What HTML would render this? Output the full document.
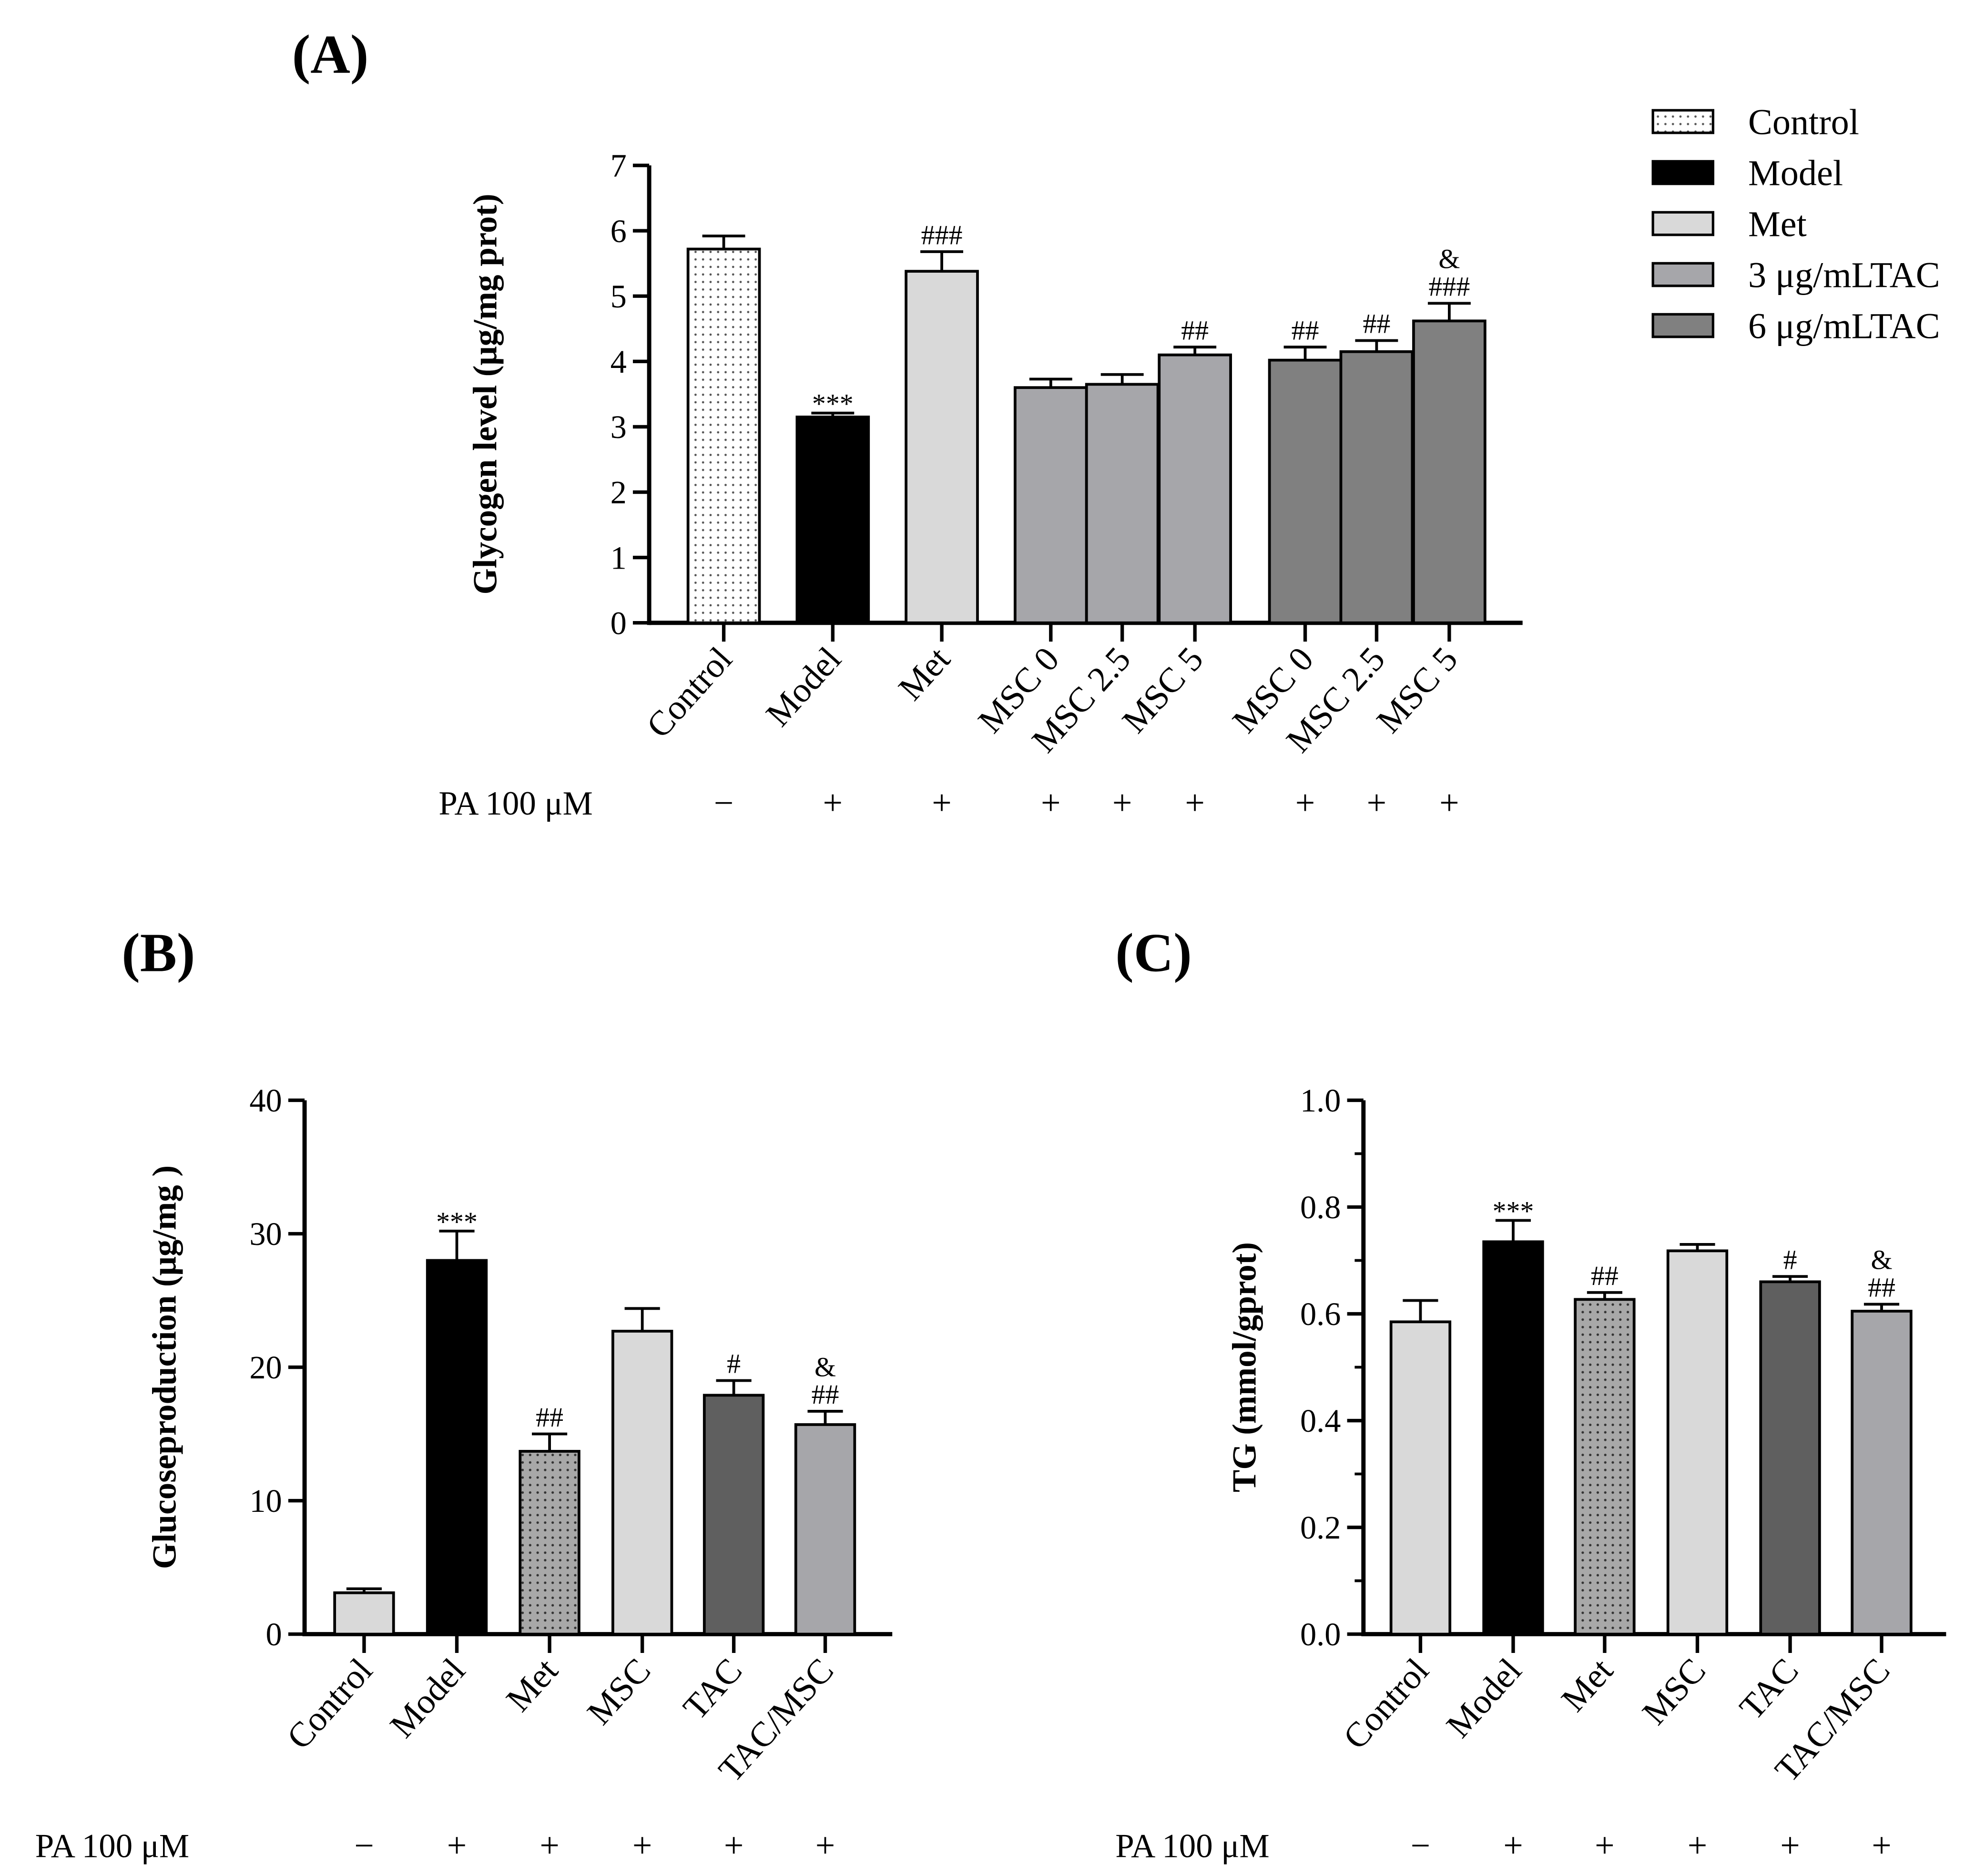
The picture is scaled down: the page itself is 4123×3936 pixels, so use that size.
<!DOCTYPE html>
<html><head><meta charset="utf-8">
<style>
html,body{margin:0;padding:0;background:#fff;}
svg{display:block;font-family:"Liberation Serif",serif;}
</style></head>
<body>
<svg id="fig" xmlns="http://www.w3.org/2000/svg" width="4123" height="3936" viewBox="0 0 1568 1497">
<defs>
<pattern id="dotsW" width="6" height="6" patternUnits="userSpaceOnUse"><rect width="6" height="6" fill="#fff"/><circle cx="3" cy="3" r="0.9" fill="#555"/></pattern>
<pattern id="dotsG" width="6" height="6" patternUnits="userSpaceOnUse"><rect width="6" height="6" fill="#a8a8a8"/><circle cx="3" cy="3" r="1" fill="#333"/></pattern>
</defs>
<text x="233" y="58" font-size="44" font-weight="bold">(A)</text>
<text x="97" y="775" font-size="44" font-weight="bold">(B)</text>
<text x="890" y="775" font-size="44" font-weight="bold">(C)</text>
<g id="legend"></g>
<g id="pa"></g>
<g id="pb"></g>
<g id="pc"></g>
</svg>
<script>
// Panel A data
const aCategories=["Control","Model","Met","MSC 0","MSC 2.5","MSC 5","MSC 0","MSC 2.5","MSC 5"];
const aValues=[5.72,3.15,5.38,3.6,3.65,4.1,4.02,4.15,4.62];
const aErrors=[0.2,0.06,0.3,0.13,0.15,0.12,0.2,0.17,0.27];
const aAnnot=[[],["***"],["###"],[],[],["##"],["##"],["##"],["&","###"]];
const aTicks=[0,1,2,3,4,5,6,7];
const aPA=["−","+","+","+","+","+","+","+","+"];
// Panel B data
const bCategories=["Control","Model","Met","MSC","TAC","TAC/MSC"];
const bValues=[3.1,28,13.7,22.7,17.9,15.7];
const bErrors=[0.3,2.2,1.3,1.7,1.1,1.0];
const bAnnot=[[],["***"],["##"],[],["#"],["&","##"]];
const bTicks=[0,10,20,30,40];
const bPA=["−","+","+","+","+","+"];
// Panel C data
const cCategories=["Control","Model","Met","MSC","TAC","TAC/MSC"];
const cValues=[0.585,0.735,0.627,0.718,0.66,0.605];
const cErrors=[0.04,0.04,0.013,0.012,0.01,0.013];
const cAnnot=[[],["***"],["##"],[],["#"],["&","##"]];
const cTicks=[0,0.2,0.4,0.6,0.8,1.0];
const cPA=["−","+","+","+","+","+"];
// Legend
const legendLabels=["Control","Model","Met","3 μg/mLTAC","6 μg/mLTAC"];

const NS="http://www.w3.org/2000/svg";
function mk(tag,attrs,parent,txt){const e=document.createElementNS(NS,tag);for(const k in attrs)e.setAttribute(k,attrs[k]);if(txt!==undefined)e.textContent=txt;parent.appendChild(e);return e;}

function drawPanel(g,cfg){
  const yS=v=>cfg.y0-(v-cfg.min)/(cfg.max-cfg.min)*(cfg.y0-cfg.yTop);
  const ya=mk('line',{x1:cfg.ax,y1:cfg.yTop,x2:cfg.ax,y2:cfg.y0+1.7,stroke:'#000','stroke-width':3.4},g);
  
  
  const xa=mk('line',{x1:cfg.ax,y1:cfg.y0,x2:cfg.axEnd,y2:cfg.y0,stroke:'#000','stroke-width':3.4},g);
  
  
  cfg.ticks.forEach(t=>{
    const y=yS(t);
    mk('line',{x1:cfg.ax-13,y1:y,x2:cfg.ax,y2:y,stroke:'#000','stroke-width':2.8},g);
    const tl=mk('text',{x:cfg.ax-18,y:y+9,'font-size':26,'text-anchor':'end'},g,cfg.fmt(t));
    
    
  });
  if(cfg.minor){for(let i=0;i<cfg.ticks.length-1;i++){const y=yS((cfg.ticks[i]+cfg.ticks[i+1])/2);mk('line',{x1:cfg.ax-7,y1:y,x2:cfg.ax,y2:y,stroke:'#000','stroke-width':2.2},g);}}
  const yt=mk('text',{x:0,y:0,'font-size':cfg.titleSize,'font-weight':'bold','text-anchor':'middle',transform:`translate(${cfg.titleX},${(cfg.y0+cfg.yTop)/2}) rotate(-90)`},g,cfg.title);
  
  
  cfg.values.forEach((v,i)=>{
    const x=cfg.barX[i],w=cfg.barW,yv=yS(v);
    const b=mk('rect',{x:x,y:yv,width:w,height:cfg.y0-yv,fill:cfg.fills[i],stroke:'#000','stroke-width':2.2},g);
    
    
    const cx=x+w/2,ye=yS(v+cfg.errs[i]);
    mk('line',{x1:cx,y1:yv,x2:cx,y2:ye,stroke:'#000','stroke-width':2.2},g);
    mk('line',{x1:cx-w*0.3,y1:ye,x2:cx+w*0.3,y2:ye,stroke:'#000','stroke-width':2.2},g);
    const an=cfg.annot[i];
    an.slice().reverse().forEach((s,k)=>{
      const t=mk('text',{x:cx,y:ye-6-k*22+(s==='***'?6:0),'font-size':22,'text-anchor':'middle'},g,s);
      
      
    });
    mk('line',{x1:cx,y1:cfg.y0,x2:cx,y2:cfg.y0+15,stroke:'#000','stroke-width':2.8},g);
    const lx=cx+8,ly=cfg.y0+30;
    const l=mk('text',{x:0,y:0,'font-size':cfg.catSize,'text-anchor':'end',transform:`translate(${lx},${ly}) rotate(-48)`},g,cfg.cats[i]);
    
    
    const p=mk('text',{x:cx,y:cfg.paY,'font-size':28,'text-anchor':'middle'},g,cfg.pa[i]);
    
    
  });
  const pl=mk('text',{x:cfg.paX,y:cfg.paY,'font-size':27},g,'PA 100 μM');
  
  
}

const LG='#d9d9d9',G3='#a6a6aa',G6='#808080',DK='#5f5f5f';
drawPanel(document.getElementById('pa'),{min:0,max:7,y0:497,yTop:132,ax:518,axEnd:1215,ticks:aTicks,fmt:t=>String(t),
  title:'Glycogen level (μg/mg prot)',titleX:396,titleSize:27,values:aValues,errs:aErrors,annot:aAnnot,cats:aCategories,
  barX:[549,636,723,810,867,925,1013,1070,1128],barW:57,fills:['url(#dotsW)','#000',LG,G3,G3,G3,G6,G6,G6],
  catSize:28,pa:aPA,paY:650,paX:350});
drawPanel(document.getElementById('pb'),{min:0,max:40,y0:1304,yTop:878,ax:243,axEnd:712,ticks:bTicks,fmt:t=>String(t),
  title:'Glucoseproduction (μg/mg )',titleX:140,titleSize:27,values:bValues,errs:bErrors,annot:bAnnot,cats:bCategories,
  barX:[267,341,415,489,562,635],barW:47,fills:[LG,'#000','url(#dotsG)',LG,DK,G3],
  catSize:28,pa:bPA,paY:1482,paX:28});
drawPanel(document.getElementById('pc'),{min:0,max:1,y0:1304,yTop:878,ax:1088,axEnd:1553,ticks:cTicks,fmt:t=>t.toFixed(1),minor:true,
  title:'TG (mmol/gprot)',titleX:1002,titleSize:27,values:cValues,errs:cErrors,annot:cAnnot,cats:cCategories,
  barX:[1110,1184,1257,1331,1405,1478],barW:47,fills:[LG,'#000','url(#dotsG)',LG,DK,G3],
  catSize:28,pa:cPA,paY:1482,paX:890});

const lg=document.getElementById('legend');
const lfills=['url(#dotsW)','#000',LG,G3,G6];
legendLabels.forEach((s,i)=>{
  const y=97+i*40.7;
  const r=mk('rect',{x:1319,y:y-9,width:48,height:18,fill:lfills[i],stroke:'#000','stroke-width':2},lg);
  
  
  const t=mk('text',{x:1395,y:y+10,'font-size':29},lg,s);
  
  
});
</script>
</body></html>
